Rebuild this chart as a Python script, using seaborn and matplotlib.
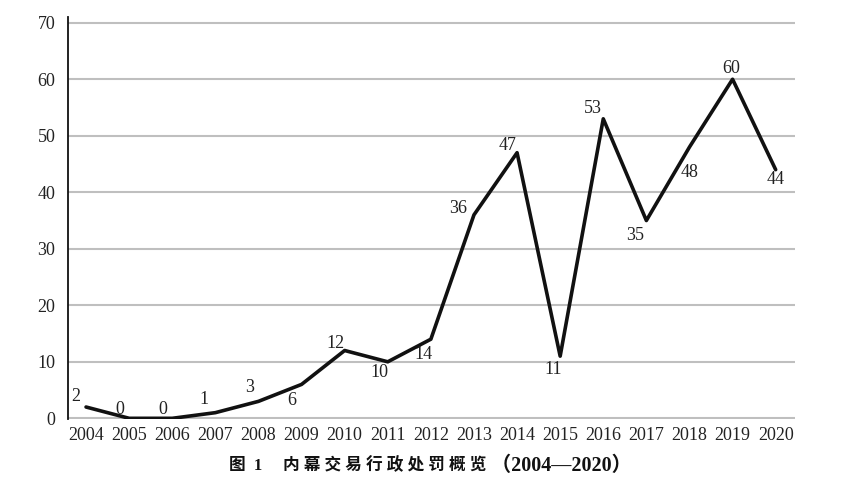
import matplotlib
matplotlib.use("Agg")
import matplotlib.pyplot as plt
import seaborn as sns
import pandas as pd

years = [2004, 2005, 2006, 2007, 2008, 2009, 2010, 2011, 2012,
         2013, 2014, 2015, 2016, 2017, 2018, 2019, 2020]
cases = [2, 0, 0, 1, 3, 6, 12, 10, 14, 36, 47, 11, 53, 35, 48, 60, 44]
y_ticks = [0, 10, 20, 30, 40, 50, 60, 70]
title_main = "图  1　 内 幕 交 易 行 政 处 罚 概 览"
title_years = " （2004—2020）"

# label offsets in pixels (dx, dy up)
label_offsets = [(-10, 11), (-9, 9), (-9, 9), (-11, 13), (-9, 14), (-10, -16),
                 (-9, 7), (-8, -11), (-7, -15), (-16, 6), (-10, 7), (-7, -13),
                 (-10, 10), (-11, -15), (0, -25), (-1, 11), (0, -10)]

sns.set_theme(style="white")
serif = ["Liberation Serif", "Noto Sans CJK SC"]
plt.rcParams["font.family"] = serif

df = pd.DataFrame({"year": years, "cases": cases})

fig = plt.figure(figsize=(8.6, 4.88), dpi=100)
ax = fig.add_axes([0.079, 0.1414, 0.845, 0.8236])

ax.set_ylim(-0.12, 71)
ax.set_xlim(years[0] - 0.42, years[-1] + 0.44)
ax.set_yticks(y_ticks)
ax.set_xticks(years)
ax.set_xticklabels([str(y) for y in years])
ax.yaxis.grid(True, color="#bfbfbf", linewidth=1.5)
ax.set_axisbelow(True)

sns.lineplot(data=df, x="year", y="cases", ax=ax, color="#111111",
             linewidth=2.6, legend=False)

for yr, v, (dx, dy) in zip(years, cases, label_offsets):
    ax.annotate(str(v), (yr, v), xytext=(dx, dy), textcoords="offset pixels",
                ha="center", va="center", fontsize=13, color="#222222",
                family=serif)

for s in ["top", "right", "bottom"]:
    ax.spines[s].set_visible(False)
ax.spines["left"].set_color("#111111")
ax.spines["left"].set_linewidth(1.3)

ax.tick_params(axis="both", length=0, labelsize=13, colors="#222222")
ax.tick_params(axis="y", pad=9)
ax.tick_params(axis="x", pad=6)
ax.set_xlabel("")
ax.set_ylabel("")

fig.text(486 / 860, 0.045, title_main, ha="right", va="center", fontsize=12,
         fontweight="bold", family=serif, color="#111111")
fig.text(486 / 860, 0.045, title_years, ha="left", va="center", fontsize=14.5,
         fontweight="bold", family=serif, color="#111111")

fig.savefig("out.png", dpi=100)
